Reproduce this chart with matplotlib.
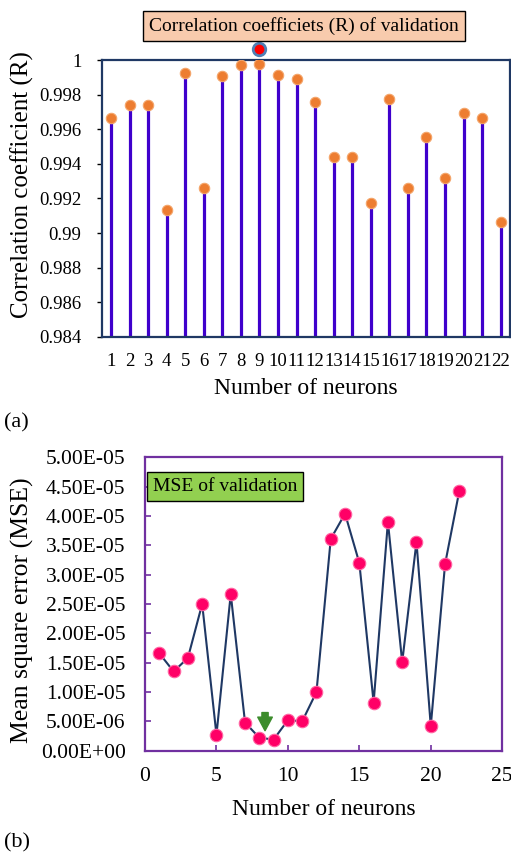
import matplotlib
matplotlib.use("Agg")
import matplotlib.pyplot as plt

plt.rcParams['font.family'] = ['Liberation Serif', 'DejaVu Serif']
plt.rcParams['mathtext.fontset'] = 'stix'

# validation results for networks with 1..22 hidden neurons
neurons = list(range(1, 23))
r_valid = [0.99665, 0.9974, 0.9974, 0.99133, 0.99927, 0.99258, 0.99908, 0.99973,
           0.9998, 0.99913, 0.99888, 0.99759, 0.99441, 0.99441, 0.99172, 0.99776,
           0.99258, 0.99557, 0.99316, 0.99695, 0.99665, 0.99065]
mse_valid = [1.66e-5, 1.35e-5, 1.58e-5, 2.50e-5, 2.7e-6, 2.67e-5, 4.8e-6, 2.2e-6,
             1.9e-6, 5.2e-6, 5.0e-6, 1.0e-5, 3.61e-5, 4.04e-5, 3.20e-5, 8.2e-6,
             3.90e-5, 1.51e-5, 3.56e-5, 4.2e-6, 3.18e-5, 4.43e-5]
best = 9
r_ticks = [0.984, 0.986, 0.988, 0.99, 0.992, 0.994, 0.996, 0.998, 1.0]
r_ticklabels = ['0.984', '0.986', '0.988', '0.99', '0.992', '0.994', '0.996', '0.998', '1']
mse_ticks = [i * 5e-6 for i in range(11)]
mse_ticklabels = ['0.00E+00', '5.00E-06'] + ['%.2fE-05' % (i * 0.5) for i in range(2, 11)]

fig = plt.figure(figsize=(5.11, 8.59), dpi=100)

# ---- (a) correlation coefficient stems ----
ax1 = fig.add_axes([0.199, 0.608, 0.799, 0.322])
ax1.vlines(neurons, 0.984, r_valid, color='#3F00CC', lw=2.3, zorder=2)
ax1.plot(neurons, r_valid, 'o', ms=7.5, mfc='#ED7D31', mec='#F4A56A', mew=0.8, zorder=3)
ax1.plot([best], [1.00064], 'o', ms=9, mfc='#FF0000', mec='#4F7FB5', mew=2,
         clip_on=False, zorder=4)
ax1.set_xlim(0.5, 22.5)
ax1.set_ylim(0.984, 1.0)
ax1.set_xticks(neurons)
ax1.set_xticklabels([str(n) for n in neurons], fontsize=13.5)
ax1.set_yticks(r_ticks)
ax1.set_yticklabels(r_ticklabels, fontsize=13.5)
ax1.tick_params(axis='x', length=0, pad=12)
ax1.tick_params(axis='y', direction='out', length=3.5, width=1, pad=11)
for s in ax1.spines.values():
    s.set_color('#1F3864')
    s.set_linewidth(1.6)
ax1.set_xlabel('Number of neurons', fontsize=17)
ax1.xaxis.set_label_coords(0.5, -0.15)
ax1.set_ylabel('Correlation coefficient (R)', fontsize=18)
ax1.yaxis.set_label_coords(-0.165, 0.55)
fig.text(0.595, 0.9697, 'Correlation coefficiets (R) of validation', fontsize=14,
         ha='center', va='center',
         bbox=dict(boxstyle='square,pad=0.3', fc='#F8CBAD', ec='black', lw=1))
fig.text(0.008, 0.508, '(a)', fontsize=16, va='center')

# ---- (b) mean square error line ----
ax2 = fig.add_axes([0.2838, 0.1261, 0.699, 0.3415])
ax2.plot(neurons, mse_valid, '-', color='#1F3864', lw=1.5, zorder=2)
ax2.plot(neurons, mse_valid, 'o', ms=9, mfc='#FF0066', mec='#FF66A3', mew=0.8, zorder=3)
ax2.annotate('', xy=(8.4, 3.4e-6), xytext=(8.4, 6.5e-6),
             arrowprops=dict(arrowstyle='simple,head_width=0.75,head_length=0.7,tail_width=0.32',
                             fc='#3C8C2C', ec='#3C8C2C', mutation_scale=14,
                             shrinkA=0, shrinkB=0))
ax2.set_xlim(0, 25)
ax2.set_ylim(0, 5e-5)
ax2.set_xticks([0, 5, 10, 15, 20, 25])
ax2.set_xticklabels(['0', '5', '10', '15', '20', '25'], fontsize=15.5)
ax2.set_yticks(mse_ticks)
ax2.set_yticklabels(mse_ticklabels, fontsize=15.5)
ax2.tick_params(axis='both', direction='in', length=4, width=1.2, color='#7030A0')
ax2.tick_params(axis='x', pad=12)
ax2.tick_params(axis='y', pad=14)
for s in ax2.spines.values():
    s.set_color('#7030A0')
    s.set_linewidth(1.6)
ax2.set_xlabel('Number of neurons', fontsize=17)
ax2.xaxis.set_label_coords(0.5, -0.165)
ax2.set_ylabel('Mean square error (MSE)', fontsize=18.5)
ax2.yaxis.set_label_coords(-0.31, 0.48)
ax2.text(0.022, 0.9, 'MSE of validation', transform=ax2.transAxes, fontsize=14,
         va='center', ha='left',
         bbox=dict(boxstyle='square,pad=0.3', fc='#92D050', ec='black', lw=1))
fig.text(0.008, 0.019, '(b)', fontsize=16, va='center')

fig.savefig('out.png', dpi=100)
